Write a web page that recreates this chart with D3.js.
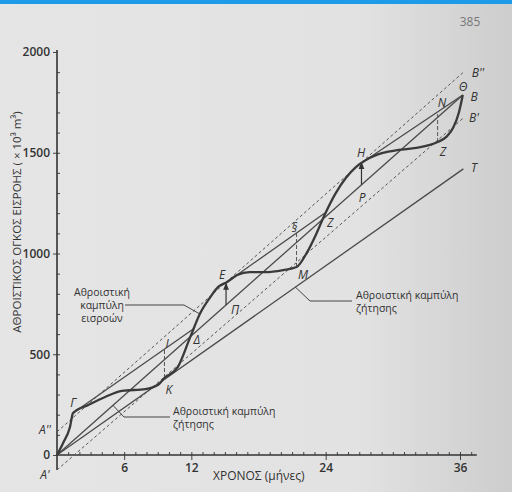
<!DOCTYPE html>
<html>
<head>
<meta charset="utf-8">
<script src="https://cdn.jsdelivr.net/npm/d3@7"></script>
<style>
  body { margin: 0; background: #e2e2e2; }
  text { font-family: "Open Sans", "Noto Sans", sans-serif; fill: #333; }
</style>
</head>
<body>
<div id="chart"></div>
<script>
// Cumulative inflow curve (months, 10^3 m3)
var curveT = [0, 0.55, 1.16, 1.43, 2.8, 4.3, 5.8, 7.9, 9.0, 9.6, 10.8, 11.9, 12.8, 13.7, 14.4, 15.2, 16.1, 17.2, 18.6, 20.2, 21.4, 22.3, 23.2, 23.9, 24.9, 25.8, 26.7, 27.6, 29.1, 30.5, 32.1, 34.0, 34.8, 35.4, 35.9, 36.25];
var curveV = [0, 60, 139, 208, 248, 288, 318, 327, 347, 382, 437, 585, 705, 784, 834, 859, 893, 908, 908, 918, 933, 1002, 1102, 1191, 1300, 1375, 1429, 1464, 1499, 1514, 1524, 1553, 1580, 1625, 1700, 1787];

// Straight lines: [t0, v0, t1, v1]
var solidLines = [
  [0, 0, 36.3, 1420],      // demand O-T
  [0, 0, 36.25, 1787],     // mean inflow O-B
  [1.43, 208, 12.3, 630],  // tangent at Γ
  [15.2, 859, 23.9, 1200], // tangent at E
  [27.6, 1464, 36.25, 1787] // tangent at H
];
var dashedLines = [
  [0, 115, 36.25, 1897],   // A'' - B''
  [0, -74, 36.25, 1670]    // A' - B'
];

// Storage verticals
var vertT = [9.6, 21.4, 34.0];
var vertLo = [382, 933, 1553];
var vertHi = [525, 1102, 1703];

// Arrows Π->E, P->H
var arrowT = [15.1, 27.2];
var arrowLo = [745, 1341];
var arrowHi = [852, 1452];

// Axis ticks
var xTicks = [6, 12, 24, 36];
var yTicks = [0, 500, 1000, 1500, 2000];

// Point labels [text, t, v]
var pointLabels = [
  ["Γ", 1.43, 238], ["A''", -1.07, 104], ["A'", -1.07, -119], ["I", 9.83, 531],
  ["Δ", 12.5, 551], ["K", 10.0, 303], ["Π", 15.9, 700], ["E", 14.74, 873],
  ["M", 21.98, 873], ["§", 21.2, 1107], ["Z", 24.4, 1131], ["H", 27.16, 1479],
  ["P", 27.25, 1256], ["Z", 34.48, 1484], ["N", 34.4, 1727], ["Θ", 36.27, 1806],
  ["B''", 37.6, 1876], ["B", 37.25, 1757], ["B'", 37.25, 1653], ["T", 37.25, 1404]
];

var width = 512;
var height = 492;

var svg = d3.select("#chart").append("svg")
  .attr("width", width)
  .attr("height", height);

// Paper background
var defs = svg.append("defs");
var grad = defs.append("linearGradient").attr("id", "paper");
grad.append("stop").attr("offset", "0%").attr("stop-color", "#e5e5e5");
grad.append("stop").attr("offset", "70%").attr("stop-color", "#e2e2e2");
grad.append("stop").attr("offset", "100%").attr("stop-color", "#cdcdcd");
svg.append("rect").attr("width", width).attr("height", height).attr("fill", "url(#paper)");
svg.append("rect").attr("width", width).attr("height", 4).attr("fill", "#1d9be6");

defs.append("marker")
  .attr("id", "arrow")
  .attr("viewBox", "0 0 10 10")
  .attr("refX", 9).attr("refY", 5)
  .attr("markerWidth", 6).attr("markerHeight", 6)
  .attr("orient", "auto")
  .append("path").attr("d", "M0,1 L10,5 L0,9 Z").attr("fill", "#333");

svg.append("text")
  .attr("x", 470).attr("y", 26)
  .attr("text-anchor", "middle")
  .attr("font-size", 12)
  .style("fill", "#777")
  .text("385");

var xScale = d3.scaleLinear().domain([0, 36]).range([57, 460]);
var yScale = d3.scaleLinear().domain([0, 2000]).range([455, 52]);

// Axes
var xAxis = d3.axisBottom(xScale).tickValues(xTicks).tickSize(5).tickPadding(3);
var xMinor = d3.axisTop(xScale).tickValues(d3.range(1, 38)).tickSize(3).tickFormat("");
var yAxis = d3.axisLeft(yScale).tickValues(yTicks).tickSize(4).tickPadding(3).tickFormat(d3.format("d"));
var yMinor = d3.axisRight(yScale).tickValues(d3.range(100, 2000, 100)).tickSize(3).tickFormat("");

function styleAxis(g) {
  g.select(".domain").remove();
  g.selectAll("line").attr("stroke", "#444");
  g.selectAll("text")
    .attr("font-size", 12)
    .attr("font-family", "'Open Sans', sans-serif")
    .attr("font-weight", 600)
    .style("fill", "#333");
}

svg.append("g").attr("transform", "translate(0," + yScale(0) + ")").call(xAxis).call(styleAxis);
svg.append("g").attr("transform", "translate(0," + yScale(0) + ")").call(xMinor).call(styleAxis);
svg.append("g").attr("transform", "translate(" + xScale(0) + ",0)").call(yAxis).call(styleAxis);
svg.append("g").attr("transform", "translate(" + xScale(0) + ",0)").call(yMinor).call(styleAxis);

svg.append("line")
  .attr("x1", xScale(0)).attr("x2", xScale(37.5))
  .attr("y1", yScale(0)).attr("y2", yScale(0))
  .attr("stroke", "#333").attr("stroke-width", 1.6);
svg.append("line")
  .attr("x1", xScale(0)).attr("x2", xScale(0))
  .attr("y1", yScale(-75)).attr("y2", yScale(2010))
  .attr("stroke", "#333").attr("stroke-width", 1.6);

// Axis titles
svg.append("text")
  .attr("x", 213).attr("y", 480)
  .attr("font-size", 12)
  .text("ΧΡΟΝΟΣ (μήνες)");

svg.append("text")
  .attr("transform", "translate(21," + 222 + ") rotate(-90)")
  .attr("text-anchor", "middle")
  .attr("font-size", 11.5)
  .text("ΑΘΡΟΙΣΤΙΚΟΣ ΟΓΚΟΣ ΕΙΣΡΟΗΣ ( × 10³ m³)");

// Dashed parallels
svg.selectAll(".dashLine")
  .data(dashedLines)
  .enter().append("line")
  .attr("class", "dashLine")
  .attr("x1", function(d) { return xScale(d[0]); })
  .attr("y1", function(d) { return yScale(d[1]); })
  .attr("x2", function(d) { return xScale(d[2]); })
  .attr("y2", function(d) { return yScale(d[3]); })
  .attr("stroke", "#555").attr("stroke-width", 1)
  .attr("stroke-dasharray", "3,2.5");

// Solid straight lines
svg.selectAll(".solidLine")
  .data(solidLines)
  .enter().append("line")
  .attr("class", "solidLine")
  .attr("x1", function(d) { return xScale(d[0]); })
  .attr("y1", function(d) { return yScale(d[1]); })
  .attr("x2", function(d) { return xScale(d[2]); })
  .attr("y2", function(d) { return yScale(d[3]); })
  .attr("stroke", "#4a4a4a").attr("stroke-width", 1.3);

// Storage verticals
svg.selectAll(".vert")
  .data(vertT)
  .enter().append("line")
  .attr("class", "vert")
  .attr("x1", function(d) { return xScale(d); })
  .attr("x2", function(d) { return xScale(d); })
  .attr("y1", function(d, i) { return yScale(vertLo[i]); })
  .attr("y2", function(d, i) { return yScale(vertHi[i]); })
  .attr("stroke", "#555").attr("stroke-width", 1)
  .attr("stroke-dasharray", "4,2");

// Arrows
svg.selectAll(".arrow")
  .data(arrowT)
  .enter().append("line")
  .attr("class", "arrow")
  .attr("x1", function(d) { return xScale(d); })
  .attr("x2", function(d) { return xScale(d); })
  .attr("y1", function(d, i) { return yScale(arrowLo[i]); })
  .attr("y2", function(d, i) { return yScale(arrowHi[i]); })
  .attr("stroke", "#333").attr("stroke-width", 1.2)
  .attr("marker-end", "url(#arrow)");

// Inflow curve
var line = d3.line()
  .x(function(d) { return xScale(d[0]); })
  .y(function(d) { return yScale(d[1]); })
  .curve(d3.curveMonotoneX);

svg.append("path")
  .datum(d3.zip(curveT, curveV))
  .attr("d", line)
  .attr("fill", "none")
  .attr("stroke", "#3a3a3a")
  .attr("stroke-width", 2.3);

// Point labels
svg.selectAll(".pLabel")
  .data(pointLabels)
  .enter().append("text")
  .attr("class", "pLabel")
  .attr("x", function(d) { return xScale(d[1]); })
  .attr("y", function(d) { return yScale(d[2]); })
  .attr("text-anchor", "middle")
  .attr("font-size", 12)
  .attr("font-style", "italic")
  .text(function(d) { return d[0]; });

// Callout labels, one text per line
function callout(lines, x, y, anchor, pts) {
  lines.forEach(function(s, i) {
    svg.append("text")
      .attr("x", x).attr("y", y + i * 13)
      .attr("font-size", 10.5)
      .attr("font-family", "'DejaVu Sans', sans-serif")
      .attr("text-anchor", anchor)
      .text(s);
  });
  svg.append("polyline")
    .attr("points", pts.map(function(p) { return p.join(","); }).join(" "))
    .attr("fill", "none").attr("stroke", "#444").attr("stroke-width", 1);
}

callout(["Αθροιστική", "καμπύλη", "εισροών"], 102, 296, "middle",
  [[125, 305], [184, 305], [xScale(12.75), yScale(700)]]);
callout(["Αθροιστική καμπύλη", "ζήτησης"], 356, 299, "start",
  [[xScale(21.3), yScale(21.3 * 39.1)], [310, 301], [352, 301]]);
callout(["Αθροιστική καμπύλη", "ζήτησης"], 173, 415, "start",
  [[xScale(5), yScale(5 * 49.3)], [124, 417], [170, 417]]);
</script>
</body>
</html>
